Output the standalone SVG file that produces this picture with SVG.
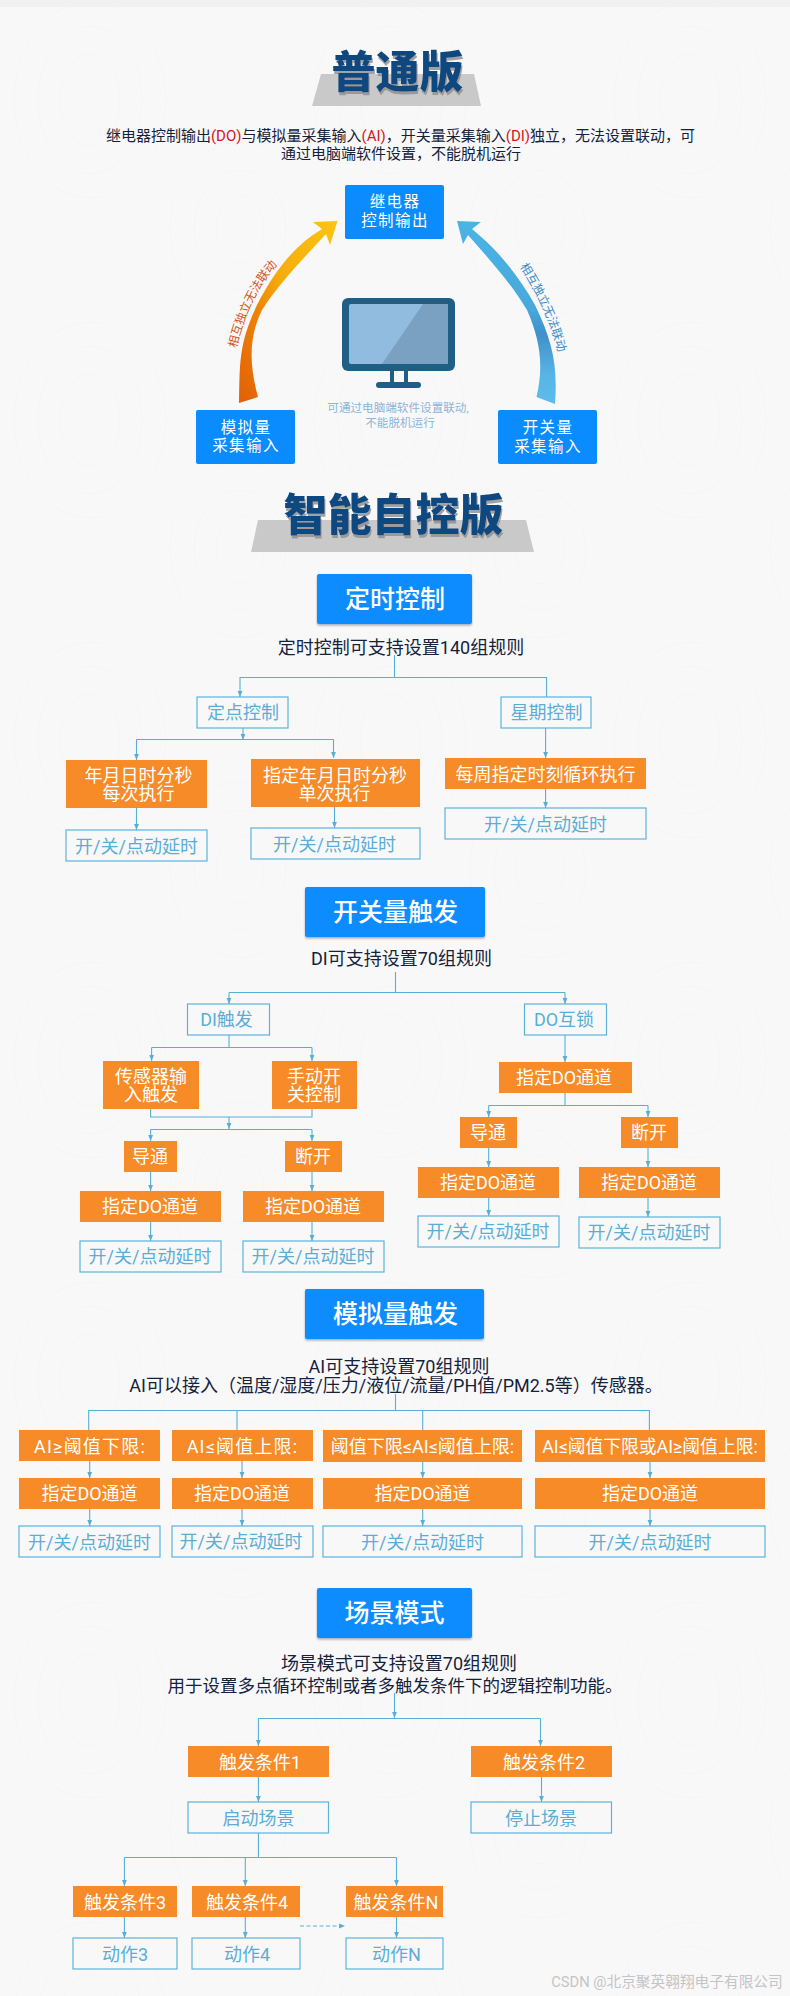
<svg xmlns="http://www.w3.org/2000/svg" width="790" height="1996" viewBox="0 0 790 1996">
<style>
text{font-family:Roboto,"Noto Sans CJK SC",sans-serif;text-anchor:middle;dominant-baseline:central}
.o{fill:#f68b28}
.l{fill:#f9f8f9;stroke:#5cb2da;stroke-width:1.2}
.b{fill:#0a8cff;rx:2px}
.h{fill:#0a8cff;rx:2px;filter:url(#bs)}
.ot{fill:#fff;font-size:18px}
.lt{fill:#5aaed6;font-size:18px}
.bt{fill:#fff;font-size:15.500px;letter-spacing:1.4px}
.ht{fill:#fff;font-size:25px;font-weight:500}
.sub{fill:#14233b;font-size:18px}
.title{fill:#0f4a80;font-size:44px;font-weight:900;filter:url(#ts)}
.band{fill:#c9c9ca}
.c{fill:none;stroke:#58afd6;stroke-width:1.1}
.ar{marker-end:url(#a)}
.red{fill:#d8141c}
</style>
<defs>
<marker id="a" markerUnits="userSpaceOnUse" markerWidth="8" markerHeight="8" refX="6.5" refY="4" orient="auto"><path d="M0 1.4L6.5 4L0 6.6z" fill="#58afd6"/></marker>
<filter id="bs" x="-5%" y="-10%" width="110%" height="125%"><feDropShadow dx="0" dy="1.5" stdDeviation="1" flood-color="#5a6a7a" flood-opacity=".55"/></filter>
<filter id="ts" x="-5%" y="-5%" width="110%" height="115%"><feDropShadow dx="1" dy="3" stdDeviation=".6" flood-color="#8d8d8d" flood-opacity=".8"/></filter>
<linearGradient id="gl" x1="0" y1="1" x2="1" y2="0"><stop offset="0" stop-color="#e25f08"/><stop offset=".35" stop-color="#ee8404"/><stop offset=".55" stop-color="#f6ac0c"/><stop offset="1" stop-color="#fcc512"/></linearGradient>
<linearGradient id="gr" x1="0" y1="0" x2="0" y2="1"><stop offset="0" stop-color="#4ab4e4"/><stop offset=".48" stop-color="#48a8dc"/><stop offset=".62" stop-color="#4090ca"/><stop offset=".85" stop-color="#58b6e6"/><stop offset="1" stop-color="#5cbcea"/></linearGradient>
<pattern id="sw" width="300" height="320" patternUnits="userSpaceOnUse"><g fill="none" stroke="#f6f4f6" stroke-width="1"><ellipse cx="90" cy="100" rx="30" ry="46"/><ellipse cx="90" cy="100" rx="52" ry="74"/><ellipse cx="90" cy="100" rx="76" ry="98"/><ellipse cx="240" cy="230" rx="24" ry="34"/><ellipse cx="240" cy="230" rx="46" ry="60"/><ellipse cx="240" cy="230" rx="70" ry="88"/></g></pattern>
</defs>
<rect width="790" height="1996" fill="#f9f8f9"/>
<rect width="790" height="1996" fill="url(#sw)"/>
<rect width="790" height="7" fill="#f1f1f1"/>

<g id="title-normal"><polygon class="band" points="321,74 474,74 481,106 312,106"/><text class="title" x="397.500" y="73">普通版</text></g>
<g id="intro"><text x="400.500" y="136" fill="#14233b" font-size="15">继电器控制输出<tspan class="red">(DO)</tspan>与模拟量采集输入<tspan class="red">(AI)</tspan>，开关量采集输入<tspan class="red">(DI)</tspan>独立，无法设置联动，可</text><text x="401" y="154" fill="#14233b" font-size="15">通过电脑端软件设置，不能脱机运行</text></g>

<g id="arrow-left"><path d="M239 403C240 365 238 345 257 305C275 270 295 245 322 229L313 222L337.500 221L330 245L326 234C300 262 278 285 262 310C250 335 248 360 258 397Z" fill="url(#gl)"/><path id="pl" d="M232 350Q244 295 276 260" fill="none"/><text font-size="12" fill="#d2541a"><textPath href="#pl" startOffset="50%">相互独立无法联动</textPath></text></g>
<g id="arrow-right"><path d="M555 404C558 365 552 340 535 305C518 275 498 250 472 229L481 222L457 221L463 244L468 235C492 262 512 285 527 310C540 340 544 365 536.500 397Z" fill="url(#gr)"/><path id="pr" d="M521 261Q551 306 563 355" fill="none"/><text font-size="12" fill="#3d8bc4"><textPath href="#pr" startOffset="50%">相互独立无法联动</textPath></text></g>

<g id="monitor"><rect x="342" y="298" width="113" height="73" rx="6" fill="#1f5f86"/><rect x="349" y="304" width="99" height="60" rx="2" fill="#92bbe0"/><polygon points="423,304 448,304 448,364 382,364" fill="#7aa0c2"/><rect x="390" y="371" width="4" height="12" fill="#1f5f86"/><rect x="404" y="371" width="4" height="12" fill="#1f5f86"/><rect x="376" y="382" width="45" height="6" rx="3" fill="#1f5f86"/><text x="398" y="408" font-size="11.600" fill="#8ab6da">可通过电脑端软件设置联动,</text><text x="400" y="423" font-size="11.600" fill="#8ab6da">不能脱机运行</text></g>

<g id="node-relay"><rect class="b" x="345" y="185" width="99" height="54"/><text class="bt" x="395" y="202">继电器</text><text class="bt" x="395" y="221">控制输出</text></g>
<g id="node-analog"><rect class="b" x="196" y="410" width="99" height="54"/><text class="bt" x="246" y="428">模拟量</text><text class="bt" x="246" y="446">采集输入</text></g>
<g id="node-switch"><rect class="b" x="498" y="410" width="99" height="54"/><text class="bt" x="548" y="428">开关量</text><text class="bt" x="548" y="447">采集输入</text></g>

<g id="title-smart"><polygon class="band" points="258,520 526,520 534,552 251,552"/><text class="title" x="393.500" y="516">智能自控版</text></g>

<g id="connectors">
<path class="c" d="M394.500 655V677.500M394.500 677.500H546.600V697"/><path class="c ar" d="M394.500 677.500H240V697"/>
<path class="c ar" d="M243 728V740"/><path class="c" d="M136.500 739.500H333.500"/><path class="c ar" d="M136.500 739.500V760"/><path class="c ar" d="M333.500 739.500V758"/>
<path class="c ar" d="M136.500 808V830"/><path class="c ar" d="M334.500 807V828"/><path class="c ar" d="M545.600 728V758"/><path class="c ar" d="M545.600 789V808"/>

<path class="c" d="M395.500 972V992.500H229"/><path class="c ar" d="M229 992.500V1004"/><path class="c" d="M395.500 992.500H565"/><path class="c ar" d="M565 992.500V1004"/>
<path class="c" d="M229 1035V1047.500H151.600"/><path class="c ar" d="M151.600 1047.500V1061"/><path class="c" d="M229 1047.500H312"/><path class="c ar" d="M312 1047.500V1061"/>
<path class="c" d="M150.600 1109V1117H312V1109"/><path class="c ar" d="M229 1117V1129"/><path class="c" d="M150.600 1129.500H312"/><path class="c ar" d="M150.600 1129.500V1141"/><path class="c ar" d="M312 1129.500V1141"/>
<path class="c ar" d="M150.600 1172V1191"/><path class="c ar" d="M312 1172V1191"/><path class="c ar" d="M150.600 1222V1241"/><path class="c ar" d="M312 1222V1241"/>
<path class="c ar" d="M565 1035V1062"/><path class="c" d="M565 1093V1105.500H488.700"/><path class="c ar" d="M488.700 1105.500V1117"/><path class="c" d="M565 1105.500H648"/><path class="c ar" d="M648 1105.500V1117"/>
<path class="c ar" d="M488.700 1148V1167"/><path class="c ar" d="M648 1148V1167"/><path class="c ar" d="M488.700 1198V1216"/><path class="c ar" d="M648 1198V1217"/>

<path class="c" d="M395.500 1394V1410.500M88.700 1430V1410.500H649.400V1430M237 1410.500V1430M422.700 1410.500V1430"/>
<path class="c ar" d="M89.700 1461V1478"/><path class="c ar" d="M242 1461V1478"/><path class="c ar" d="M422.700 1462V1478"/><path class="c ar" d="M650 1462V1478"/>
<path class="c ar" d="M89.700 1509V1526"/><path class="c ar" d="M242 1509V1526"/><path class="c ar" d="M422.700 1509V1526"/><path class="c ar" d="M650 1509V1526"/>

<path class="c ar" d="M394.500 1693V1718"/><path class="c" d="M258.400 1718.500H540.500"/><path class="c ar" d="M258.400 1718.500V1746"/><path class="c ar" d="M540.500 1718.500V1746"/>
<path class="c ar" d="M258.400 1777V1802"/><path class="c ar" d="M541.500 1777V1802"/>
<path class="c" d="M258.400 1833V1857.500M124.400 1857.500H396.500"/><path class="c ar" d="M124.400 1857.500V1886"/><path class="c ar" d="M245.300 1857.500V1886"/><path class="c ar" d="M396.500 1857.500V1886"/>
<path class="c ar" d="M124.400 1917V1938"/><path class="c ar" d="M245.300 1917V1938"/><path class="c ar" d="M396.500 1917V1938"/>
<path class="c ar" stroke-dasharray="4 2.500" d="M300 1926H345"/>
</g>

<g id="timer"><rect class="h" x="317" y="574" width="155" height="50"/><text class="ht" x="395" y="599">定时控制</text></g>
<text class="sub" x="401" y="647" fill="#111">定时控制可支持设置140组规则</text>
<g id="n1"><rect class="l" x="197" y="697" width="91" height="31"/><text class="lt" x="243" y="712">定点控制</text></g>
<g id="n2"><rect class="l" x="501" y="697" width="90" height="31"/><text class="lt" x="546.500" y="712">星期控制</text></g>
<g id="n3"><rect class="o" x="66" y="760" width="141" height="48"/><text class="ot" x="138.500" y="775">年月日时分秒</text><text class="ot" x="138.500" y="793">每次执行</text></g>
<g id="n4"><rect class="o" x="251" y="759" width="169" height="48"/><text class="ot" x="335" y="775">指定年月日时分秒</text><text class="ot" x="334.500" y="793">单次执行</text></g>
<g id="n5"><rect class="o" x="445" y="758" width="201" height="31"/><text class="ot" x="545.500" y="774">每周指定时刻循环执行</text></g>
<g id="n6"><rect class="l" x="66" y="830" width="141" height="31"/><text class="lt" x="136.500" y="846">开/关/点动延时</text></g>
<g id="n7"><rect class="l" x="251" y="828" width="169" height="31"/><text class="lt" x="334.500" y="844">开/关/点动延时</text></g>
<g id="n8"><rect class="l" x="445" y="808" width="201" height="31"/><text class="lt" x="545.500" y="824">开/关/点动延时</text></g>

<g id="switch-trigger"><rect class="h" x="305" y="887" width="180" height="50"/><text class="ht" x="395.500" y="912">开关量触发</text></g>
<text class="sub" x="401.500" y="958">DI可支持设置70组规则</text>
<g id="s1"><rect class="l" x="187.500" y="1004" width="82" height="31"/><text class="lt" x="226.500" y="1019">DI触发</text></g>
<g id="s2"><rect class="l" x="524.500" y="1004" width="82" height="31"/><text class="lt" x="564" y="1019">DO互锁</text></g>
<g id="s3"><rect class="o" x="103" y="1061" width="96" height="48"/><text class="ot" x="151" y="1076">传感器输</text><text class="ot" x="151" y="1094">入触发</text></g>
<g id="s4"><rect class="o" x="272" y="1061" width="85" height="48"/><text class="ot" x="314" y="1076">手动开</text><text class="ot" x="314" y="1094">关控制</text></g>
<g id="s5"><rect class="o" x="124" y="1141" width="53" height="31"/><text class="ot" x="150" y="1156">导通</text></g>
<g id="s6"><rect class="o" x="285" y="1141" width="57" height="31"/><text class="ot" x="313" y="1156">断开</text></g>
<g id="s7"><rect class="o" x="80" y="1191" width="141" height="31"/><text class="ot" x="150" y="1206">指定DO通道</text></g>
<g id="s8"><rect class="o" x="243" y="1191" width="141" height="31"/><text class="ot" x="313" y="1206">指定DO通道</text></g>
<g id="s9"><rect class="l" x="80" y="1241" width="141" height="31"/><text class="lt" x="150" y="1256">开/关/点动延时</text></g>
<g id="s10"><rect class="l" x="243" y="1241" width="141" height="31"/><text class="lt" x="313" y="1256">开/关/点动延时</text></g>
<g id="s11"><rect class="o" x="499" y="1062" width="133" height="31"/><text class="ot" x="564" y="1077">指定DO通道</text></g>
<g id="s12"><rect class="o" x="460" y="1117" width="57" height="31"/><text class="ot" x="488" y="1132">导通</text></g>
<g id="s13"><rect class="o" x="621" y="1117" width="57" height="31"/><text class="ot" x="649" y="1132">断开</text></g>
<g id="s14"><rect class="o" x="418" y="1167" width="141" height="31"/><text class="ot" x="488" y="1182">指定DO通道</text></g>
<g id="s15"><rect class="o" x="579" y="1167" width="141" height="31"/><text class="ot" x="649" y="1182">指定DO通道</text></g>
<g id="s16"><rect class="l" x="418" y="1216" width="141" height="31"/><text class="lt" x="488" y="1231">开/关/点动延时</text></g>
<g id="s17"><rect class="l" x="579" y="1217" width="141" height="31"/><text class="lt" x="649" y="1232">开/关/点动延时</text></g>

<g id="analog-trigger"><rect class="h" x="305" y="1289" width="179" height="50"/><text class="ht" x="395.500" y="1314">模拟量触发</text></g>
<text class="sub" x="399" y="1366">AI可支持设置70组规则</text>
<text class="sub" x="396" y="1385">AI可以接入（温度/湿度/压力/液位/流量/PH值/PM2.5等）传感器。</text>
<g id="a1"><rect class="o" x="19" y="1430" width="141" height="31"/><text class="ot" x="90" y="1446" letter-spacing="1.2">AI≥阈值下限:</text></g>
<g id="a2"><rect class="o" x="172" y="1430" width="141" height="31"/><text class="ot" x="242.500" y="1446" letter-spacing="1.2">AI≤阈值上限:</text></g>
<g id="a3"><rect class="o" x="323" y="1430" width="199" height="32"/><text class="ot" x="422.500" y="1446">阈值下限≤AI≤阈值上限:</text></g>
<g id="a4"><rect class="o" x="535" y="1430" width="230" height="32"/><text class="ot" x="650" y="1446" style="font-size:17.800px">AI≤阈值下限或AI≥阈值上限:</text></g>
<g id="a5"><rect class="o" x="19" y="1478" width="141" height="31"/><text class="ot" x="89.500" y="1493">指定DO通道</text></g>
<g id="a6"><rect class="o" x="172" y="1478" width="141" height="31"/><text class="ot" x="242" y="1493">指定DO通道</text></g>
<g id="a7"><rect class="o" x="323" y="1478" width="199" height="31"/><text class="ot" x="422.500" y="1493">指定DO通道</text></g>
<g id="a8"><rect class="o" x="535" y="1478" width="230" height="31"/><text class="ot" x="650" y="1493">指定DO通道</text></g>
<g id="a9"><rect class="l" x="19" y="1526" width="141" height="31"/><text class="lt" x="89.500" y="1542">开/关/点动延时</text></g>
<g id="a10"><rect class="l" x="172" y="1526" width="141" height="31"/><text class="lt" x="241" y="1541">开/关/点动延时</text></g>
<g id="a11"><rect class="l" x="323" y="1526" width="199" height="31"/><text class="lt" x="422.500" y="1542">开/关/点动延时</text></g>
<g id="a12"><rect class="l" x="535" y="1526" width="230" height="31"/><text class="lt" x="650" y="1542">开/关/点动延时</text></g>

<g id="scene"><rect class="h" x="317" y="1588" width="155" height="50"/><text class="ht" x="394.500" y="1613">场景模式</text></g>
<text class="sub" x="399" y="1663">场景模式可支持设置70组规则</text>
<text class="sub" x="395" y="1686" style="font-size:17.500px">用于设置多点循环控制或者多触发条件下的逻辑控制功能。</text>
<g id="e1"><rect class="o" x="188" y="1746" width="141" height="31"/><text class="ot" x="260" y="1762">触发条件1</text></g>
<g id="e2"><rect class="o" x="471" y="1746" width="141" height="31"/><text class="ot" x="544" y="1762">触发条件2</text></g>
<g id="e3"><rect class="l" x="188" y="1802" width="140.500" height="31"/><text class="lt" x="258.500" y="1818">启动场景</text></g>
<g id="e4"><rect class="l" x="471" y="1802" width="140.500" height="31"/><text class="lt" x="541" y="1818">停止场景</text></g>
<g id="e5"><rect class="o" x="73" y="1886" width="104" height="31"/><text class="ot" x="125" y="1902">触发条件3</text></g>
<g id="e6"><rect class="o" x="192" y="1886" width="108" height="31"/><text class="ot" x="247" y="1902">触发条件4</text></g>
<g id="e7"><rect class="o" x="346" y="1886" width="97" height="31"/><text class="ot" x="396" y="1902">触发条件N</text></g>
<g id="e8"><rect class="l" x="73" y="1938" width="104" height="31"/><text class="lt" x="125" y="1954">动作3</text></g>
<g id="e9"><rect class="l" x="192" y="1938" width="108" height="31"/><text class="lt" x="247" y="1954">动作4</text></g>
<g id="e10"><rect class="l" x="346" y="1938" width="97" height="31"/><text class="lt" x="396.500" y="1954">动作N</text></g>

<text x="667" y="1982" font-size="14.700" fill="#c4c4c6">CSDN @北京聚英翱翔电子有限公司</text>
</svg>
